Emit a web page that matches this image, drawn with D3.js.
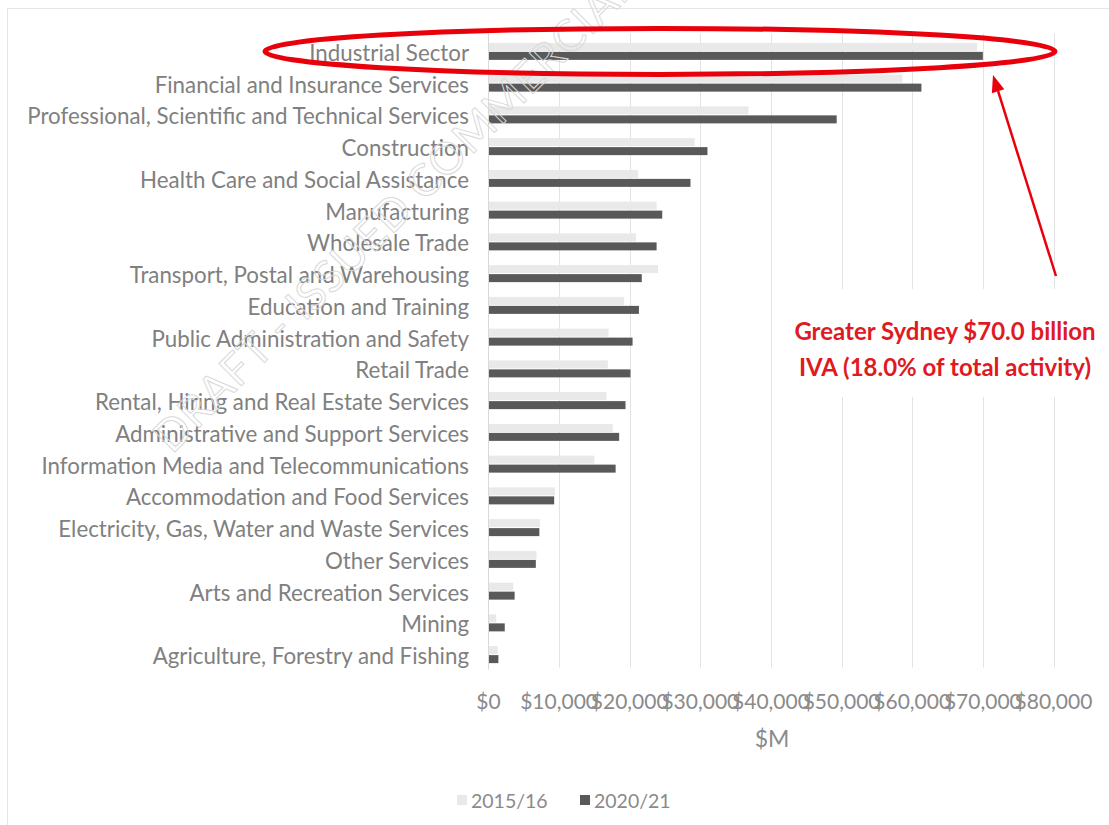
<!DOCTYPE html>
<html>
<head>
<meta charset="utf-8">
<script src="https://cdn.jsdelivr.net/npm/d3@7"></script>
<style>
  html, body { margin: 0; padding: 0; background: #fff; }
  svg { display: block; font-family: Lato, "Open Sans", sans-serif; }
</style>
</head>
<body>
<svg id="chart" width="1109" height="825"></svg>
<script>
// Industry value added by sector, $M
const categories = [
  "Industrial Sector",
  "Financial and Insurance Services",
  "Professional, Scientific and Technical Services",
  "Construction",
  "Health Care and Social Assistance",
  "Manufacturing",
  "Wholesale Trade",
  "Transport, Postal and Warehousing",
  "Education and Training",
  "Public Administration and Safety",
  "Retail Trade",
  "Rental, Hiring and Real Estate Services",
  "Administrative and Support Services",
  "Information Media and Telecommunications",
  "Accommodation and Food Services",
  "Electricity, Gas, Water and Waste Services",
  "Other Services",
  "Arts and Recreation Services",
  "Mining",
  "Agriculture, Forestry and Fishing"
];
const values2015 = [69200, 58600, 36800, 29200, 21200, 23800, 20900, 24000, 19200, 17000,
                    16900, 16700, 17600, 15000, 9400, 7300, 6800, 3500, 1100, 1300];
const values2020 = [70000, 61300, 49300, 31000, 28600, 24600, 23800, 21700, 21300, 20400,
                    20100, 19400, 18500, 18000, 9300, 7200, 6700, 3700, 2300, 1400];
const seriesNames = ["2015/16", "2020/21"];
const seriesColors = ["#e9e9e9", "#595959"];
const xTicks = [0, 10000, 20000, 30000, 40000, 50000, 60000, 70000, 80000];
const xAxisTitle = "$M";
const calloutLines = ["Greater Sydney $70.0 billion", "IVA (18.0% of total activity)"];
const watermarkText = "DRAFT - ISSUED COMMERCIAL";

const svg = d3.select("#chart");
const plot = { left: 488.5, right: 1053.5, top: 35.5, bottom: 670.5 };

const x = d3.scaleLinear().domain([0, 80000]).range([plot.left, plot.right]);
const y = d3.scaleBand().domain(categories).range([plot.top, plot.bottom]);
const barH = 8;

// outer chart frame
svg.append("rect")
  .attr("x", 7.5).attr("y", 8.5).attr("width", 1200).attr("height", 1000)
  .attr("fill", "#fff").attr("stroke", "#e6e6e6").attr("stroke-width", 1);

// vertical gridlines
svg.append("g")
  .selectAll("line")
  .data(xTicks.slice(1))
  .join("line")
  .attr("x1", d => Math.round(x(d)) + 0.5).attr("x2", d => Math.round(x(d)) + 0.5)
  .attr("y1", plot.top - 2).attr("y2", plot.bottom - 3)
  .attr("stroke", "#e3e3e3").attr("stroke-width", 1);

// category axis line
svg.append("line")
  .attr("x1", x(0)).attr("x2", x(0))
  .attr("y1", plot.top - 2).attr("y2", plot.bottom - 1)
  .attr("stroke", "#d9d9d9").attr("stroke-width", 1);

// bars
const rows = categories.map((c, i) => ({ c, v: [values2015[i], values2020[i]] }));
const barG = svg.append("g");
rows.forEach(r => {
  const mid = y(r.c) + y.bandwidth() / 2;
  barG.append("rect")
    .attr("x", x(0) + 0.5).attr("y", mid - barH - 0.5)
    .attr("width", x(r.v[0]) - x(0) - 0.5).attr("height", barH)
    .attr("fill", seriesColors[0]);
  barG.append("rect")
    .attr("x", x(0) + 0.5).attr("y", mid + 0.5)
    .attr("width", x(r.v[1]) - x(0) - 0.5).attr("height", barH)
    .attr("fill", seriesColors[1]);
});

// category labels
svg.append("g")
  .selectAll("text")
  .data(categories)
  .join("text")
  .attr("x", 469)
  .attr("y", d => y(d) + y.bandwidth() / 2 + 1)
  .attr("text-anchor", "end")
  .attr("dominant-baseline", "central")
  .attr("font-size", 22.3)
  .attr("fill", "#808080")
  .text(d => d);

// value axis tick labels
const fmt = d3.format(",");
svg.append("g")
  .selectAll("text")
  .data(xTicks)
  .join("text")
  .attr("x", d => x(d))
  .attr("y", 700)
  .attr("text-anchor", "middle")
  .attr("dominant-baseline", "central")
  .attr("font-size", 21)
  .attr("fill", "#8a8a8a")
  .text(d => "$" + fmt(d));

svg.append("text")
  .attr("x", 772)
  .attr("y", 738)
  .attr("text-anchor", "middle")
  .attr("dominant-baseline", "central")
  .attr("font-size", 23)
  .attr("fill", "#8a8a8a")
  .text(xAxisTitle);

// legend
const legend = svg.append("g").attr("transform", "translate(457,800)");
const legendX = [0, 123];
seriesNames.forEach((s, i) => {
  legend.append("rect")
    .attr("x", legendX[i]).attr("y", -5).attr("width", 10).attr("height", 10)
    .attr("fill", seriesColors[i]);
  legend.append("text")
    .attr("x", legendX[i] + 14).attr("y", 0)
    .attr("dominant-baseline", "central")
    .attr("font-size", 19.5)
    .attr("fill", "#8a8a8a")
    .text(s);
});

// watermark
svg.append("text")
  .attr("transform", "translate(172,455) rotate(-45)")
  .attr("font-size", 44)
  .attr("letter-spacing", 1)
  .attr("fill", "none")
  .attr("stroke", "#d9d9d9")
  .attr("stroke-width", 1)
  .text(watermarkText);

// highlight ring around the top sector
const ringY = y(categories[0]) + y.bandwidth() / 2;
svg.append("ellipse")
  .attr("cx", 660).attr("cy", ringY)
  .attr("rx", 395).attr("ry", 23)
  .attr("fill", "none")
  .attr("stroke", "#e8000b")
  .attr("stroke-width", 5);

// arrow pointing to the ring
const tail = [1056, 276], tip = [993, 75];
const ang = Math.atan2(tip[1] - tail[1], tip[0] - tail[0]);
const headLen = 17, headHalf = 6.5;
const base = [tip[0] - headLen * Math.cos(ang), tip[1] - headLen * Math.sin(ang)];
svg.append("line")
  .attr("x1", tail[0]).attr("y1", tail[1])
  .attr("x2", base[0]).attr("y2", base[1])
  .attr("stroke", "#e8000b").attr("stroke-width", 2.5);
svg.append("polygon")
  .attr("points", [
    tip,
    [base[0] + headHalf * Math.sin(ang), base[1] - headHalf * Math.cos(ang)],
    [base[0] - headHalf * Math.sin(ang), base[1] + headHalf * Math.cos(ang)]
  ].map(p => p.join(",")).join(" "))
  .attr("fill", "#e8000b");

// callout text
svg.append("rect")
  .attr("x", 776).attr("y", 289).attr("width", 340).attr("height", 108)
  .attr("fill", "#fff");
svg.append("g")
  .selectAll("text")
  .data(calloutLines)
  .join("text")
  .attr("x", 945)
  .attr("y", (d, i) => 330 + i * 36)
  .attr("text-anchor", "middle")
  .attr("dominant-baseline", "central")
  .attr("font-size", 24)
  .attr("font-weight", "bold")
  .attr("fill", "#e01a22")
  .text(d => d);
</script>
</body>
</html>
